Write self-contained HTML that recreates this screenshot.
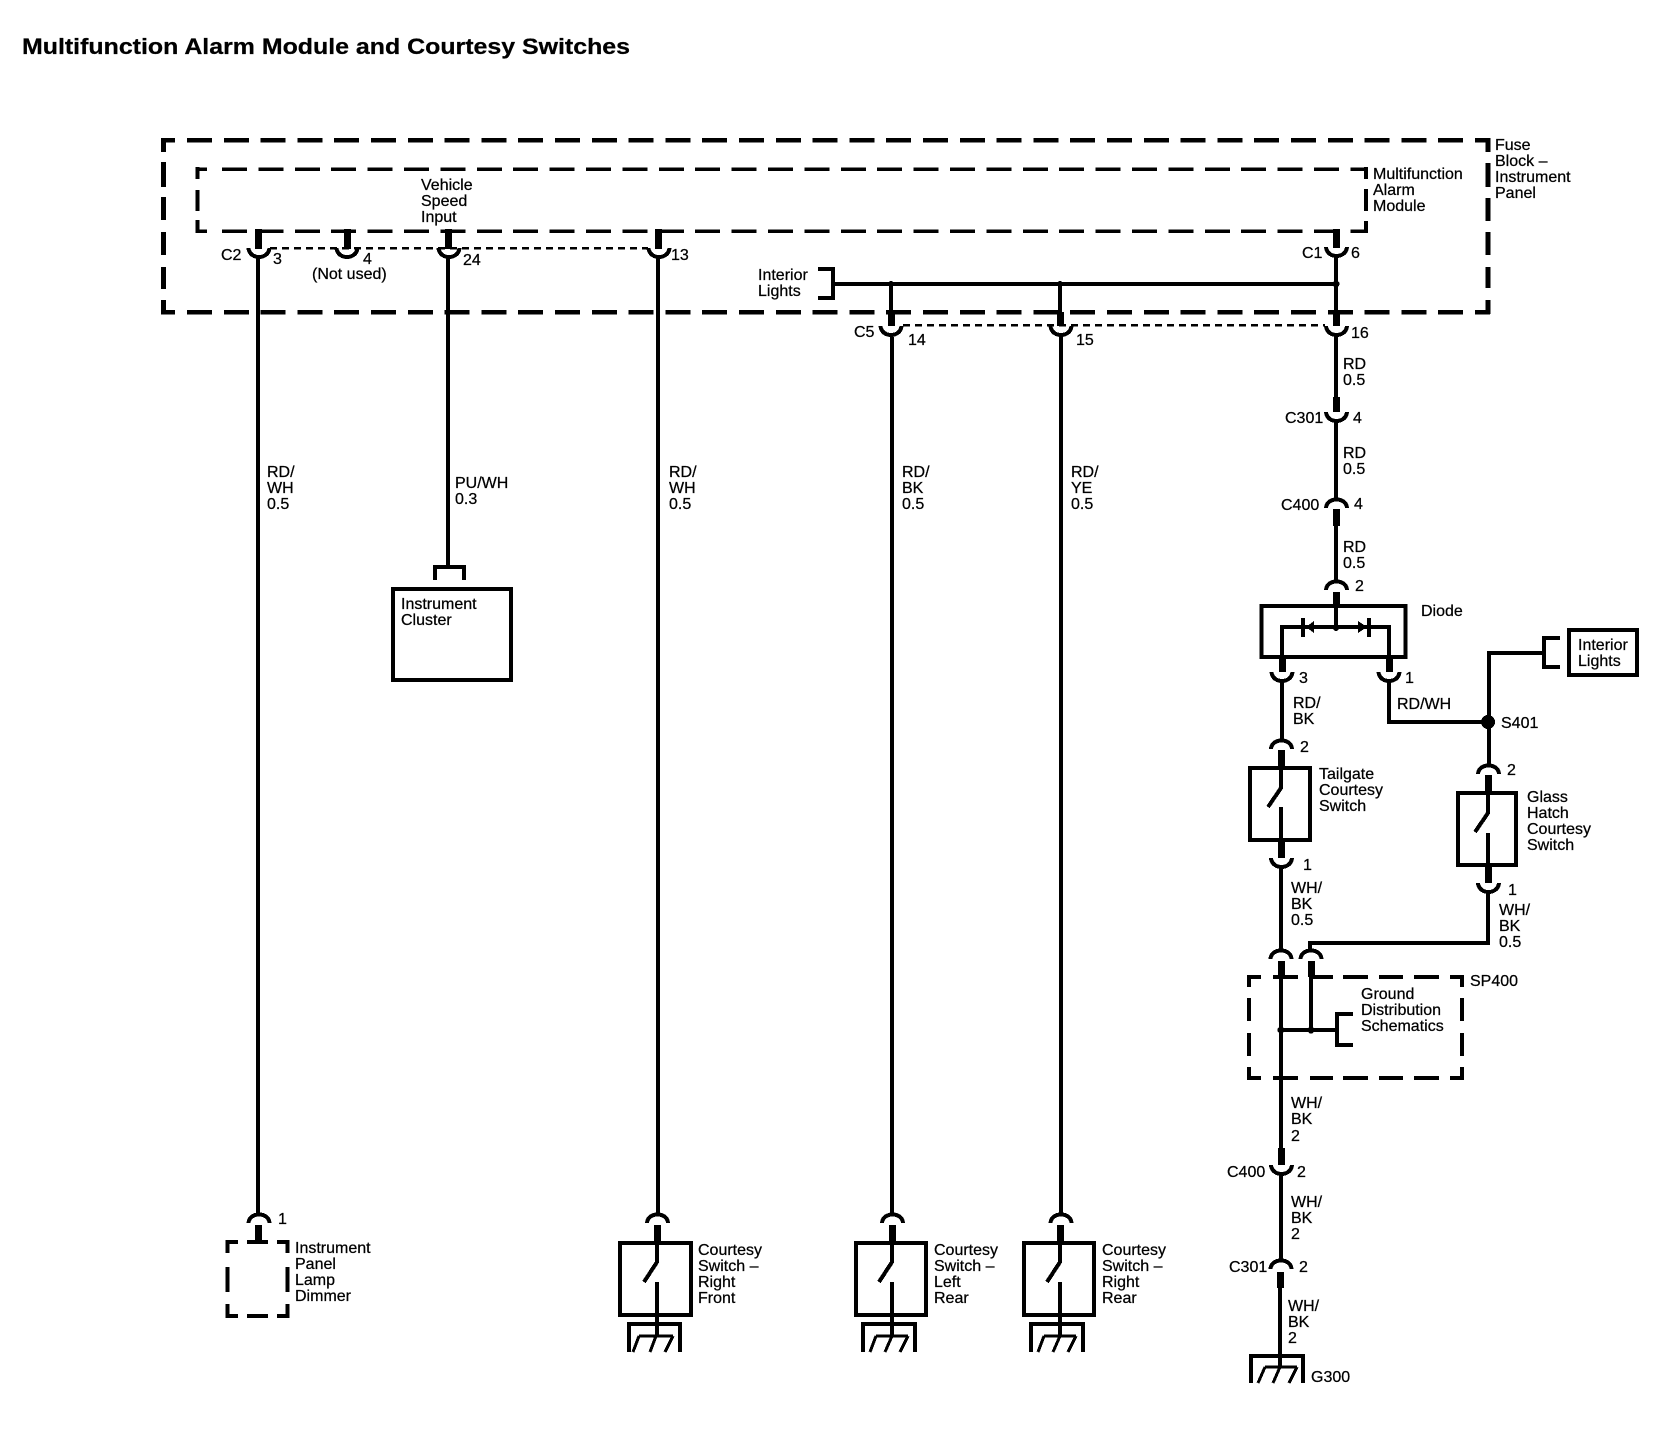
<!DOCTYPE html>
<html lang="en">
<head>
<meta charset="utf-8">
<title>Multifunction Alarm Module and Courtesy Switches</title>
<style>
html,body{margin:0;padding:0;background:#fff;}
svg{display:block;}
text{font-family:"Liberation Sans",Arial,sans-serif;font-size:16px;fill:#000;stroke:#000;stroke-width:.25px;}
.w{fill:none;stroke:#000;stroke-width:4;}
.s{fill:none;stroke:#000;stroke-width:7;}
.b{fill:none;stroke:#000;stroke-width:4;}
.t{fill:none;stroke:#000;stroke-width:2.5;stroke-dasharray:7 5;}
</style>
</head>
<body>
<svg xmlns="http://www.w3.org/2000/svg" width="1660" height="1440" viewBox="0 0 1660 1440" shape-rendering="crispEdges">
<defs>
<path id="cup" d="M-10.5,0 C-10,6 -5,9 0,9 C5,9 10,6 10.5,0" fill="none" stroke="#000" stroke-width="4"/>
<path id="arch" d="M-10.5,10 C-10,4 -5,1.5 0,1.5 C5,1.5 10,4 10.5,10" fill="none" stroke="#000" stroke-width="4"/>
</defs>

<text x="22" y="54" style="font-size:22px;font-weight:bold" textLength="608" lengthAdjust="spacingAndGlyphs">Multifunction Alarm Module and Courtesy Switches</text>

<!-- outer dashed box -->
<g fill="none" stroke="#000">
<path stroke-width="4.5" stroke-dasharray="25 11.8" stroke-dashoffset="10.8" d="M161,140 H1490 M161,312 H1490"/>
<path stroke-width="5" d="M163.500,138 V152 M163.500,162 V187 M163.500,197 V220 M163.500,232 V255 M163.500,267 V289 M163.500,300 V314 M1488,138 V152 M1488,163 V187 M1488,198 V221 M1488,232 V255 M1488,267 V288 M1488,300 V314"/>
<!-- inner dashed box -->
<path stroke-width="3.5" stroke-dasharray="25 11.4" d="M222,169 H1368 M222,231 H1368"/>
<path stroke-width="3.5" d="M207,169 H196 M207,231 H196"/>
<path stroke-width="4" d="M197.5,167 V179 M197.5,190 V211 M197.5,220 V233 M1366,167 V179 M1366,189 V211 M1366,221 V233"/>
</g>

<!-- top connector row -->
<path class="t" d="M270,248 H648"/>
<path class="t" d="M903,325 H1325"/>
<path class="s" d="M258.500,229 V249 M347.500,229 V249 M448.500,229 V249 M658.500,229 V249 M1336.500,229 V248"/>
<use href="#cup" x="259" y="248"/>
<use href="#cup" x="347" y="248"/>
<use href="#cup" x="449" y="248"/>
<use href="#cup" x="659" y="248"/>
<use href="#cup" x="1336.500" y="247"/>
<text x="221" y="260">C2</text><text x="273" y="264">3</text>
<text x="363" y="264">4</text><text x="312" y="279">(Not used)</text>
<text x="463" y="265">24</text><text x="671" y="260">13</text>
<text x="421" y="190">Vehicle</text><text x="421" y="206">Speed</text><text x="421" y="222">Input</text>
<text x="758" y="280">Interior</text><text x="758" y="296">Lights</text>
<text x="1495" y="150">Fuse</text><text x="1495" y="166">Block –</text><text x="1495" y="182">Instrument</text><text x="1495" y="198">Panel</text>
<text x="1373" y="179">Multifunction</text><text x="1373" y="195">Alarm</text><text x="1373" y="211">Module</text>
<text x="1302" y="258">C1</text><text x="1351" y="258">6</text>

<!-- Interior Lights bus -->
<path class="b" d="M818,269 H833 V298 H818 M833,284 H1336"/>
<circle cx="891" cy="284" r="3"/><circle cx="1060" cy="284" r="3"/><circle cx="1336" cy="284" r="3.500"/>
<path class="w" d="M891,284 V312 M1060,284 V312 M1336,258 V312"/>
<path class="s" d="M891.500,312 V326 M1060.500,312 V326 M1336.500,310 V326"/>
<use href="#cup" x="891" y="326"/><use href="#cup" x="1061" y="326"/><use href="#cup" x="1336.500" y="326"/>
<text x="854" y="337">C5</text><text x="908" y="345">14</text><text x="1076" y="345">15</text><text x="1351" y="338">16</text>

<!-- long wires -->
<path class="w" d="M258,258 V1214 M448,258 V566 M658,258 V1214 M892,337 V1214 M1061,337 V1214"/>
<text x="267" y="477">RD/</text><text x="267" y="493">WH</text><text x="267" y="509">0.5</text>
<text x="669" y="477">RD/</text><text x="669" y="493">WH</text><text x="669" y="509">0.5</text>
<text x="902" y="477">RD/</text><text x="902" y="493">BK</text><text x="902" y="509">0.5</text>
<text x="1071" y="477">RD/</text><text x="1071" y="493">YE</text><text x="1071" y="509">0.5</text>
<text x="455" y="488">PU/WH</text><text x="455" y="504">0.3</text>

<!-- Instrument Cluster -->
<path class="b" d="M435,580 V567 H464 V580"/>
<rect class="b" x="393" y="589" width="118" height="91"/>
<text x="401" y="609">Instrument</text><text x="401" y="625">Cluster</text>

<!-- Right column: to diode -->
<path class="w" d="M1336,337 V397 M1336,423 V500 M1336,526 V582"/>
<path class="s" d="M1336.500,397 V412 M1336.500,509 V526 M1336.500,592 V605"/>
<use href="#cup" x="1336.500" y="412"/>
<use href="#arch" x="1336.500" y="498"/>
<use href="#arch" x="1336.500" y="580"/>
<text x="1343" y="369">RD</text><text x="1343" y="385">0.5</text>
<text x="1285" y="423">C301</text><text x="1353" y="423">4</text>
<text x="1343" y="458">RD</text><text x="1343" y="474">0.5</text>
<text x="1281" y="510">C400</text><text x="1354" y="509">4</text>
<text x="1343" y="552">RD</text><text x="1343" y="568">0.5</text>
<text x="1355" y="591">2</text>

<!-- Diode -->
<rect x="1261.500" y="606" width="144" height="51" fill="none" stroke="#000" stroke-width="4"/>
<path class="w" d="M1336,605 V628 M1282,658 V627 H1389 V658"/>
<circle cx="1336" cy="628" r="3"/>
<path d="M1306,627 L1314,621 V633 Z M1358,621 L1367,627 L1358,633 Z"/>
<path fill="none" stroke="#000" stroke-width="4" d="M1303,618 V637 M1369,618 V637"/>
<text x="1421" y="616">Diode</text>
<path class="s" d="M1282.500,656 V672 M1389.500,656 V672"/>
<use href="#cup" x="1282" y="672"/><use href="#cup" x="1389" y="672"/>
<text x="1299" y="683">3</text><text x="1405" y="683">1</text>
<path class="w" d="M1282,681 V740"/>
<text x="1293" y="708">RD/</text><text x="1293" y="724">BK</text>
<path class="w" d="M1389,681 V722 H1489"/>
<text x="1397" y="709">RD/WH</text>
<circle cx="1488" cy="722" r="7"/>
<text x="1501" y="728">S401</text>

<!-- Interior Lights right -->
<path class="w" d="M1489,765 V653 H1544"/>
<path class="b" d="M1560,638 H1544 V667 H1560"/>
<rect class="b" x="1569" y="630" width="68" height="45"/>
<text x="1578" y="650">Interior</text><text x="1578" y="666">Lights</text>

<!-- Tailgate switch -->
<use href="#arch" x="1281.500" y="739"/>
<path class="s" d="M1281.500,750 V767 M1281.500,841 V858"/>
<text x="1300" y="752">2</text>
<rect x="1250" y="768" width="60" height="72" fill="none" stroke="#000" stroke-width="4"/>
<path class="w" d="M1281,767 V788 L1268,807 M1281,807 V841"/>
<text x="1319" y="779">Tailgate</text><text x="1319" y="795">Courtesy</text><text x="1319" y="811">Switch</text>
<use href="#cup" x="1281.500" y="858"/>
<text x="1303" y="870">1</text>
<path class="w" d="M1281,867 V950"/>
<text x="1291" y="893">WH/</text><text x="1291" y="909">BK</text><text x="1291" y="925">0.5</text>

<!-- Glass hatch switch -->
<use href="#arch" x="1488.500" y="764"/>
<path class="s" d="M1488.500,775 V792 M1488.500,866 V883"/>
<text x="1507" y="775">2</text>
<rect x="1458" y="793" width="58" height="72" fill="none" stroke="#000" stroke-width="4"/>
<path class="w" d="M1488,792 V813 L1475,832 M1488,833 V866"/>
<text x="1527" y="802">Glass</text><text x="1527" y="818">Hatch</text><text x="1527" y="834">Courtesy</text><text x="1527" y="850">Switch</text>
<use href="#cup" x="1488.500" y="883"/>
<text x="1508" y="895">1</text>
<path class="w" d="M1488,892 V943 H1310 V950"/>
<text x="1499" y="915">WH/</text><text x="1499" y="931">BK</text><text x="1499" y="947">0.5</text>

<!-- SP400 -->
<use href="#arch" x="1281" y="949"/><use href="#arch" x="1311" y="949"/>
<path class="s" d="M1281.500,961 V977 M1311.500,961 V977"/>
<g fill="none" stroke="#000" stroke-width="4">
<path d="M1247,977 H1261 M1273,977 H1298 M1310,977 H1333 M1343,977 H1368 M1379,977 H1403 M1414,977 H1439 M1450,977 H1464"/>
<path d="M1247,1078 H1261 M1273,1078 H1298 M1310,1078 H1333 M1343,1078 H1368 M1379,1078 H1403 M1414,1078 H1439 M1450,1078 H1464"/>
<path d="M1249,975 V987 M1249,998 V1021 M1249,1033 V1056 M1249,1067 V1080 M1462,975 V987 M1462,998 V1021 M1462,1033 V1056 M1462,1067 V1080"/>
</g>
<path class="w" d="M1281,976 V1148 M1311,976 V1030 M1281,1030 H1337 M1353,1014 H1337 V1045 H1353"/>
<circle cx="1281" cy="1030" r="3.500"/><circle cx="1311" cy="1030" r="3.500"/>
<text x="1361" y="999">Ground</text><text x="1361" y="1015">Distribution</text><text x="1361" y="1031">Schematics</text>
<text x="1470" y="986">SP400</text>
<text x="1291" y="1108">WH/</text><text x="1291" y="1124">BK</text><text x="1291" y="1141">2</text>

<!-- lower connectors -->
<path class="s" d="M1281.500,1148 V1165"/>
<use href="#cup" x="1281.500" y="1165"/>
<text x="1227" y="1177">C400</text><text x="1297" y="1177">2</text>
<path class="w" d="M1281,1174 V1260"/>
<text x="1291" y="1207">WH/</text><text x="1291" y="1223">BK</text><text x="1291" y="1239">2</text>
<use href="#arch" x="1281" y="1259"/>
<path class="s" d="M1280.500,1272 V1288"/>
<text x="1229" y="1272">C301</text><text x="1299" y="1272">2</text>
<path class="w" d="M1280,1288 V1367"/>
<text x="1288" y="1311">WH/</text><text x="1288" y="1327">BK</text><text x="1288" y="1343">2</text>
<path class="w" d="M1251,1383 V1356 H1303 V1383"/>
<path fill="none" stroke="#000" stroke-width="3" d="M1265,1367 H1297 M1265,1367 L1258,1383 M1280,1367 L1273,1383 M1297,1367 L1289,1383"/>
<text x="1311" y="1382">G300</text>

<!-- Instrument Panel Lamp Dimmer -->
<use href="#arch" x="259" y="1213"/>
<path class="s" d="M258.500,1225 V1241"/>
<text x="278" y="1224">1</text>
<g fill="none" stroke="#000" stroke-width="4">
<path d="M226,1242 H238 M247,1242 H268 M277,1242 H289 M226,1316 H238 M247,1316 H268 M277,1316 H289"/>
<path d="M227.500,1240 V1253 M227.500,1267 V1292 M227.500,1304 V1318 M287.500,1240 V1253 M287.500,1267 V1292 M287.500,1304 V1318"/>
</g>
<text x="295" y="1253">Instrument</text><text x="295" y="1269">Panel</text><text x="295" y="1285">Lamp</text><text x="295" y="1301">Dimmer</text>

<!-- Courtesy switch: Right Front -->
<use href="#arch" x="657.500" y="1213"/>
<path class="s" d="M657.500,1225 V1242"/>
<rect class="b" x="620" y="1243" width="71" height="72"/>
<path class="w" d="M657,1242 V1262 L644,1282 M657,1282 V1337"/>
<path class="w" d="M629,1352 V1324 H680 V1352"/>
<path fill="none" stroke="#000" stroke-width="3" d="M639,1336 H673 M639,1336 L633,1352 M656,1336 L650,1352 M673,1336 L665,1352"/>
<text x="698" y="1255">Courtesy</text><text x="698" y="1271">Switch –</text><text x="698" y="1287">Right</text><text x="698" y="1303">Front</text>

<!-- Courtesy switch: Left Rear -->
<use href="#arch" x="892.500" y="1213"/>
<path class="s" d="M892.500,1225 V1242"/>
<rect class="b" x="856" y="1243" width="70" height="72"/>
<path class="w" d="M892,1242 V1262 L879,1282 M892,1282 V1337"/>
<path class="w" d="M863,1352 V1324 H915 V1352"/>
<path fill="none" stroke="#000" stroke-width="3" d="M876,1336 H908 M876,1336 L870,1352 M892,1336 L885,1352 M908,1336 L900,1352"/>
<text x="934" y="1255">Courtesy</text><text x="934" y="1271">Switch –</text><text x="934" y="1287">Left</text><text x="934" y="1303">Rear</text>

<!-- Courtesy switch: Right Rear -->
<use href="#arch" x="1061" y="1213"/>
<path class="s" d="M1060.500,1225 V1242"/>
<rect class="b" x="1024" y="1243" width="70" height="72"/>
<path class="w" d="M1060,1242 V1262 L1047,1282 M1060,1282 V1337"/>
<path class="w" d="M1031,1352 V1324 H1083 V1352"/>
<path fill="none" stroke="#000" stroke-width="3" d="M1044,1336 H1076 M1044,1336 L1038,1352 M1060,1336 L1053,1352 M1076,1336 L1068,1352"/>
<text x="1102" y="1255">Courtesy</text><text x="1102" y="1271">Switch –</text><text x="1102" y="1287">Right</text><text x="1102" y="1303">Rear</text>
</svg>
</body>
</html>
